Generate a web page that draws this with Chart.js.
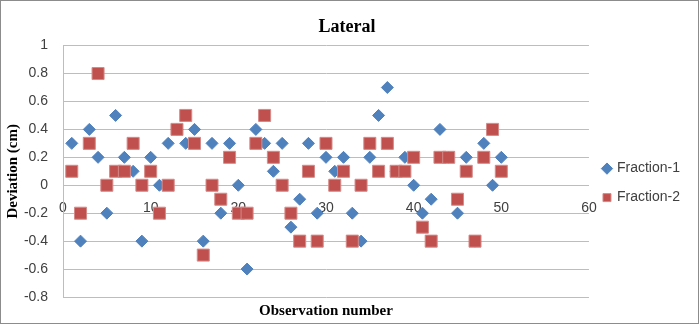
<!DOCTYPE html>
<html>
<head>
<meta charset="utf-8">
<script src="https://cdn.jsdelivr.net/npm/chart.js@4.4.1/dist/chart.umd.min.js"></script>
<style>
  html, body { margin: 0; padding: 0; background: #fff; }
  #frame {
    width: 699px;
    height: 324px;
    box-sizing: border-box;
    border: 1px solid #8c8c8c;
    position: relative;
  }
</style>
</head>
<body>
<div id="frame">
  <canvas id="lateral"></canvas>
</div>
<script>
const observations = [1, 2, 3, 4, 5, 6, 7, 8, 9, 10,
  11, 12, 13, 14, 15, 16, 17, 18, 19, 20,
  21, 22, 23, 24, 25, 26, 27, 28, 29, 30,
  31, 32, 33, 34, 35, 36, 37, 38, 39, 40,
  41, 42, 43, 44, 45, 46, 47, 48, 49, 50];

const fraction1 = [0.3, -0.4, 0.4, 0.2, -0.2, 0.5, 0.2, 0.1, -0.4, 0.2,
  0, 0.3, 0.4, 0.3, 0.4, -0.4, 0.3, -0.2, 0.3, 0,
  -0.6, 0.4, 0.3, 0.1, 0.3, -0.3, -0.1, 0.3, -0.2, 0.2,
  0.1, 0.2, -0.2, -0.4, 0.2, 0.5, 0.7, 0.1, 0.2, 0,
  -0.2, -0.1, 0.4, 0.2, -0.2, 0.2, -0.4, 0.3, 0, 0.2];

const fraction2 = [0.1, -0.2, 0.3, 0.8, 0, 0.1, 0.1, 0.3, 0, 0.1,
  -0.2, 0, 0.4, 0.5, 0.3, -0.5, 0, -0.1, 0.2, -0.2,
  -0.2, 0.3, 0.5, 0.2, 0, -0.2, -0.4, 0.1, -0.4, 0.3,
  0, 0.1, -0.4, 0, 0.3, 0.1, 0.3, 0.1, 0.1, 0.2,
  -0.3, -0.4, 0.2, 0.2, -0.1, 0.1, -0.4, 0.2, 0.4, 0.1];

const X_TICKS = [0, 10, 20, 30, 40, 50, 60];
const Y_TICKS = [1, 0.8, 0.6, 0.4, 0.2, 0, -0.2, -0.4, -0.6, -0.8];

const GRID = '#bdbdbd';
const SANS = '"Liberation Sans", Arial, sans-serif';
const SERIF = '"Liberation Serif", "Times New Roman", serif';

function pontos(valores) {
  return observations.map((x, i) => ({ x: x, y: valores[i] }));
}

// axis title under the plot, centred on the plot area
const tituloEixoX = {
  id: 'tituloEixoX',
  afterDraw(chart) {
    const { ctx, chartArea } = chart;
    ctx.save();
    ctx.font = 'bold 15px ' + SERIF;
    ctx.fillStyle = '#000';
    ctx.textAlign = 'center';
    ctx.textBaseline = 'middle';
    ctx.fillText('Observation number', (chartArea.left + chartArea.right) / 2, 310);
    ctx.restore();
  }
};

new Chart(document.getElementById('lateral'), {
  type: 'scatter',
  data: {
    datasets: [
      {
        label: 'Fraction-1',
        data: pontos(fraction1),
        pointStyle: 'rectRot',
        pointRadius: 6,
        pointHoverRadius: 6,
        backgroundColor: '#4f81bd',
        borderColor: '#4f81bd',
        borderWidth: 1,
        order: 1
      },
      {
        label: 'Fraction-2',
        data: pontos(fraction2),
        pointStyle: 'rect',
        pointRadius: 8.5,
        pointHoverRadius: 8.5,
        backgroundColor: '#c0504d',
        borderColor: '#d58b89',
        borderWidth: 1,
        order: 0
      }
    ]
  },
  options: {
    responsive: true,
    maintainAspectRatio: false,
    animation: false,
    layout: { padding: { left: 3, right: 8, top: 0, bottom: 26 } },
    plugins: {
      title: {
        display: true,
        text: 'Lateral',
        color: '#000',
        font: { family: SERIF, size: 18, weight: 'bold' },
        padding: { top: 16, bottom: 7 }
      },
      legend: {
        position: 'right',
        // empty title only pushes the entries down a little
        title: {
          display: true,
          text: ' ',
          font: { size: 1 },
          padding: { top: 67, bottom: 0 }
        },
        labels: {
          usePointStyle: true,
          boxWidth: 6,
          boxHeight: 8,
          padding: 15,
          color: '#404040',
          font: { family: SANS, size: 14 },
          sort: (a, b) => a.datasetIndex - b.datasetIndex
        }
      },
      tooltip: { enabled: false }
    },
    scales: {
      x: {
        type: 'linear',
        position: { y: 0 },
        min: 0,
        max: 60,
        afterBuildTicks(scale) { scale.ticks = X_TICKS.map(v => ({ value: v })); },
        grid: { display: false, drawTicks: false },
        border: { display: true, color: GRID, width: 1 },
        ticks: {
          color: '#404040',
          padding: 14,
          maxRotation: 0,
          font: { family: SANS, size: 14 }
        }
      },
      y: {
        min: -0.8,
        max: 1,
        afterBuildTicks(scale) { scale.ticks = Y_TICKS.map(v => ({ value: v })); },
        afterFit(scale) { scale.width = 59; },
        grid: { color: GRID, lineWidth: 1, drawTicks: false },
        border: { display: true, color: GRID, width: 1 },
        ticks: {
          color: '#404040',
          padding: 15,
          font: { family: SANS, size: 14 },
          callback: v => String(Math.round(v * 10) / 10)
        },
        title: {
          display: true,
          text: 'Deviation (cm)',
          color: '#000',
          font: { family: SERIF, size: 15, weight: 'bold' },
          padding: { top: 0, bottom: 0 }
        }
      }
    }
  },
  plugins: [tituloEixoX]
});
</script>
</body>
</html>
